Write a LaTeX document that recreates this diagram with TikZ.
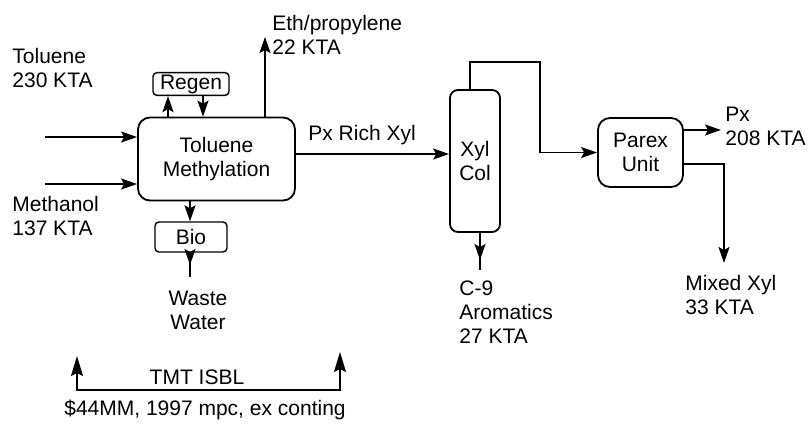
\documentclass[tikz,border=0pt]{standalone}
\usepackage{fontspec}
\setmainfont{Liberation Sans}
\usetikzlibrary{positioning,arrows.meta}
\newcommand\lblfont{\fontsize{10.5}{12}\selectfont}
\tikzset{
  unit/.style    ={draw, rounded corners=6pt, line width=0.9pt, align=center, font=\lblfont, inner sep=1pt},
  aux/.style     ={draw, rounded corners=2pt, line width=0.7pt, align=center, font=\lblfont, inner sep=1pt},
  stream/.style  ={font=\lblfont, align=left, inner sep=0pt},
  pipe/.style    ={line width=0.8pt},
  flowarr/.style ={-{Stealth[length=8pt,width=5.5pt,inset=1.5pt]}, line width=0.8pt},
  isblarr/.style ={{Stealth[length=10pt,width=6pt,inset=1.5pt]}-{Stealth[length=10pt,width=6pt,inset=1.5pt]}, line width=0.8pt},
}
\begin{document}
\begin{tikzpicture}[x=0.5pt,y=-0.5pt]
\useasboundingbox (0,0) rectangle (808,425);
% process units
\node[unit, minimum width=78.5pt, minimum height=41.5pt] (tm) at (216.5,159) {Toluene\\Methylation};
\node[aux, minimum width=38pt, minimum height=11pt] (regen) at (191,84) {Regen};
\node[aux, minimum width=36pt, minimum height=15pt] (bio) at (191,237) {Bio};
\node[unit, rounded corners=4pt, minimum width=25pt, minimum height=71pt] (xyl) at (475,161) {Xyl\\Col};
\node[unit, minimum width=42.5pt, minimum height=34.5pt] (parex) at (640.5,152.5) {Parex\\Unit};
% stream labels
\node[stream, anchor=west] (tol) at (12,68) {Toluene\\230 KTA};
\node[stream, anchor=west] (meoh) at (12,216) {Methanol\\137 KTA};
\node[stream, anchor=west] (eth) at (272,35) {Eth/propylene\\22 KTA};
\node[stream, anchor=base west] (pxrich) at (308,140) {Px Rich Xyl};
\node[stream, anchor=west] (px) at (725,126) {Px\\208 KTA};
\node[stream, anchor=west] (mx) at (685,295) {Mixed Xyl\\33 KTA};
\node[stream, anchor=west] (c9) at (459,312) {C-9\\Aromatics\\27 KTA};
\node[stream, align=center] (ww) at (198,310) {Waste\\Water};
\node[stream] (isbl) at (197,377) {TMT ISBL};
\node[stream] (cost) at (205,410) {\$44MM, 1997 mpc, ex conting};
% free ends
\coordinate (tolin) at (45,137);
\coordinate (meohin) at (45,184);
\coordinate (ethout) at (265,37);
\coordinate (wwout) at (190,277);
\coordinate (ovh) at (540,62);
\coordinate (pxout) at (721,130);
\coordinate (mxout) at (724,263);
\coordinate (c9out) at (480,270);
\coordinate (isblL) at (77,356);
\coordinate (isblR) at (340,352);
\coordinate (isblbase) at (0,390);
% connectors
\draw[flowarr] (tolin) -- (tolin -| tm.west);
\draw[flowarr] (meohin) -- (meohin -| tm.west);
\draw[flowarr] (168,0 |- tm.north) -- (168,0 |- regen.south);
\draw[flowarr] (203,0 |- regen.south) -- (203,0 |- tm.north);
\draw[flowarr] (ethout |- tm.north) -- (ethout);
\draw[flowarr] (190,0 |- tm.south) -- (190,0 |- bio.north);
\draw[pipe] (190,0 |- bio.south) -- (wwout);
\draw[flowarr] (190,0 |- bio.south) -- (190,265);
\draw[flowarr] (0,154 -| tm.east) -- (0,154 -| xyl.west);
\draw[flowarr] (470,0 |- xyl.north) |- (ovh) |- (parex.west);
\draw[flowarr] (0,130 -| parex.east) -- (pxout);
\draw[flowarr] (0,164 -| parex.east) -| (mxout);
\draw[pipe] (480,0 |- xyl.south) -- (c9out);
\draw[flowarr] (480,0 |- xyl.south) -- (480,260);
\draw[isblarr] (isblL) -- (isblL |- isblbase) -| (isblR);
\end{tikzpicture}
\end{document}
